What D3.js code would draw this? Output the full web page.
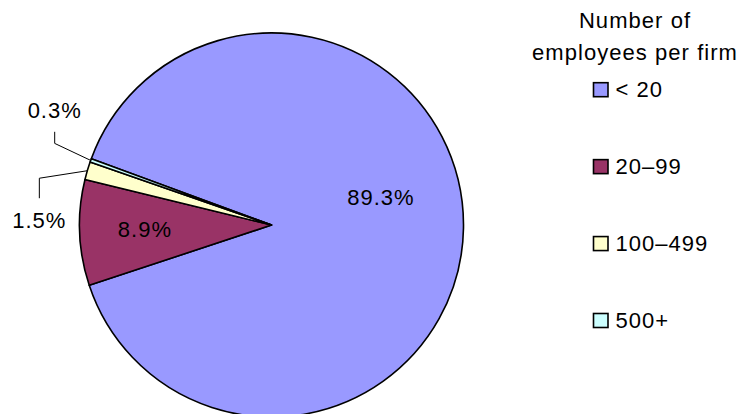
<!DOCTYPE html>
<html>
<head>
<meta charset="utf-8">
<script src="https://cdn.jsdelivr.net/npm/d3@7/dist/d3.min.js"></script>
<style>
  html, body { margin: 0; padding: 0; background: #fff; }
  svg { display: block; font-family: "Liberation Sans", Arial, sans-serif; }
</style>
</head>
<body>
<svg id="chart" width="738" height="414"></svg>
<script>
// Share of firms by size class
const categories = ["< 20", "20\u201399", "100\u2013499", "500+"];
const shares = [89.3, 8.9, 1.5, 0.3];
const valueLabels = ["89.3%", "8.9%", "1.5%", "0.3%"];
const legendTitle = ["Number of", "employees per firm"];

const colors = ["#9999FF", "#993366", "#FFFFCC", "#CCFFFF"];

const W = 738, H = 414;
const cx = 271.5, cy = 225, R = 192;
// first slice starts a little past ten o'clock, measured clockwise from 12
const startDeg = -69.8;
const fontSize = 22;

const svg = d3.select("#chart");

const pie = d3.pie()
  .value(d => d)
  .sort(null)
  .startAngle(startDeg * Math.PI / 180)
  .endAngle(startDeg * Math.PI / 180 + 2 * Math.PI);

const arcs = pie(shares);
const arc = d3.arc().innerRadius(0).outerRadius(R);

const g = svg.append("g").attr("transform", `translate(${cx},${cy})`);

g.selectAll("path.slice")
  .data(arcs)
  .join("path")
  .attr("class", "slice")
  .attr("d", arc)
  .attr("fill", (d, i) => colors[i])
  .attr("stroke", "#000")
  .attr("stroke-width", 1.6)
  .attr("stroke-linejoin", "round");

// Label placement: inside labels sit at a fraction of the radius (plus nudge),
// the two thin slices get elbow leader lines out to the left.
const labelLayout = [
  { mode: "inside", r: 0.57, nudge: [0, -22] },
  { mode: "inside", r: 0.66, nudge: [0, 7] },
  { mode: "leader", elbow: [-48, 7.5], drop: 20, textOffset: 30 },
  { mode: "leader", elbow: [-36, -17], drop: -11.6, textOffset: -13.5 }
];

function edgePoint(d) {
  const a = (d.startAngle + d.endAngle) / 2;
  return [R * Math.sin(a), -R * Math.cos(a)];
}

arcs.forEach((d, i) => {
  const L = labelLayout[i];
  if (L.mode === "inside") {
    const a = (d.startAngle + d.endAngle) / 2;
    const x = L.r * R * Math.sin(a) + L.nudge[0];
    const y = -L.r * R * Math.cos(a) + L.nudge[1];
    g.append("text")
      .attr("x", x).attr("y", y)
      .attr("text-anchor", "middle")
      .attr("font-size", fontSize)
      .attr("letter-spacing", 1)
      .attr("fill", "#000")
      .text(valueLabels[i]);
  } else {
    const p = edgePoint(d);
    const e = [p[0] + L.elbow[0], p[1] + L.elbow[1]];
    const t = [e[0], e[1] + L.drop];
    g.append("path")
      .attr("d", d3.line()([p, e, t]))
      .attr("fill", "none")
      .attr("stroke", "#000")
      .attr("stroke-width", 1);
    g.append("text")
      .attr("x", t[0])
      .attr("y", t[1] + L.textOffset)
      .attr("text-anchor", "middle")
      .attr("font-size", fontSize)
      .attr("letter-spacing", 1)
      .attr("fill", "#000")
      .text(valueLabels[i]);
  }
});

// Legend
const legend = svg.append("g");
const legendCx = 635;
legend.selectAll("text.title")
  .data(legendTitle)
  .join("text")
  .attr("class", "title")
  .attr("x", legendCx)
  .attr("y", (d, i) => 28.3 + i * 31.3)
  .attr("text-anchor", "middle")
  .attr("font-size", fontSize)
  .attr("letter-spacing", 1.05)
  .text(d => d);

const itemY = d3.scalePoint()
  .domain(categories)
  .range([82.7, 313.5]);

const items = legend.selectAll("g.item")
  .data(categories)
  .join("g")
  .attr("class", "item")
  .attr("transform", d => `translate(593.5,${itemY(d)})`);

items.append("rect")
  .attr("width", 14.5).attr("height", 14)
  .attr("fill", (d, i) => colors[i])
  .attr("stroke", "#000")
  .attr("stroke-width", 1.6);

items.append("text")
  .attr("x", 22)
  .attr("y", 14.2)
  .attr("font-size", fontSize)
  .attr("letter-spacing", 1)
  .text(d => d);
</script>
</body>
</html>
